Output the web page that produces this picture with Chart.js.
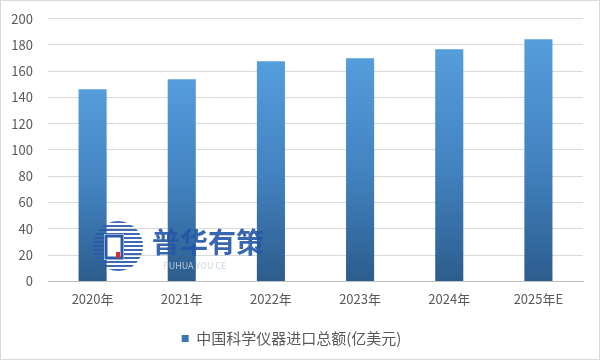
<!DOCTYPE html>
<html>
<head>
<meta charset="utf-8">
<script src="https://cdn.jsdelivr.net/npm/chart.js@4.4.0/dist/chart.umd.min.js"></script>
<style>
html,body{margin:0;padding:0;background:#fff;}
#wrap{width:601px;height:361px;position:relative;}
</style>
</head>
<body>
<div id="wrap"><canvas id="c" width="601" height="361"></canvas></div>
<script>
const categories = ["2020年","2021年","2022年","2023年","2024年","2025年E"];
const seriesName = "中国科学仪器进口总额(亿美元)";
const values = [146.2, 153.8, 167.5, 169.8, 176.6, 184.2];
const yTicks = [0,20,40,60,80,100,120,140,160,180,200];

const FONT = "'Noto Sans CJK SC', 'Noto Sans', sans-serif";

function barGradient(ctx){
  const chart = ctx.chart;
  const ys = chart.scales && chart.scales.y;
  if (!ys || ctx.dataIndex === undefined) return '#3f7fbf';
  const top = ys.getPixelForValue(ctx.raw);
  const base = ys.getPixelForValue(0);
  if (!isFinite(top) || !isFinite(base) || top === base) return '#3f7fbf';
  const g = chart.ctx.createLinearGradient(0, top, 0, base);
  g.addColorStop(0, '#559ddb');
  g.addColorStop(0.5, '#4383c2');
  g.addColorStop(1, '#2c5d8c');
  return g;
}

const borderPlugin = {
  id: 'frame',
  afterDraw(chart){
    const c = chart.ctx;
    c.save();
    c.strokeStyle = '#d9d9d9';
    c.lineWidth = 1;
    c.strokeRect(0.5, 0.5, 599, 359);
    c.restore();
  }
};

const watermark = {
  id: 'wm',
  afterDatasetsDraw(chart){
    const c = chart.ctx;
    c.save();
    c.globalAlpha = 0.9;
    const cx = 118, cy = 246, r = 25;
    c.beginPath(); c.arc(cx, cy, r, 0, Math.PI*2); c.clip();
    c.fillStyle = '#2a5aa8';
    for (let y = cy - r; y < cy + r; y += 4) {
      c.fillRect(cx - r, y, r*2, 2);
    }
    c.restore();
    c.save();
    c.fillStyle = '#ffffff';
    c.fillRect(104, 234, 20, 26);
    c.strokeStyle = '#2a5aa8';
    c.lineWidth = 3;
    c.strokeRect(106, 236, 16, 22);
    c.fillStyle = '#d03030';
    c.fillRect(116, 252, 4, 6);
    c.globalAlpha = 0.9;
    c.fillStyle = '#2456a6';
    c.font = "bold 28px " + FONT;
    c.textBaseline = 'middle';
    c.textAlign = 'left';
    c.fillText('普华有策', 152, 242);
    c.font = "9px " + FONT;
    c.fillStyle = '#c8d0dc';
    c.fillText('PUHUA YOU CE', 163, 266);
    c.restore();
  }
};

new Chart(document.getElementById('c'), {
  type: 'bar',
  data: {
    labels: categories,
    datasets: [{
      label: seriesName,
      data: values,
      backgroundColor: barGradient,
      borderWidth: 0,
      categoryPercentage: 1.0,
      barPercentage: 0.315
    }]
  },
  options: {
    responsive: false,
    animation: false,
    devicePixelRatio: 1,
    layout: { padding: { left: 0, right: 18, top: 0, bottom: 5 } },
    plugins: {
      tooltip: { enabled: false },
      legend: {
        position: 'bottom',
        labels: {
          font: { family: FONT, size: 15 },
          color: '#595959',
          boxWidth: 7,
          boxHeight: 7,
          padding: 14,
          generateLabels(chart){
            return [{
              text: seriesName,
              fillStyle: '#3a75b0',
              strokeStyle: '#3a75b0',
              lineWidth: 0,
              hidden: false,
              datasetIndex: 0,
              fontColor: '#595959'
            }];
          }
        }
      }
    },
    scales: {
      x: {
        grid: { display: false, drawTicks: false },
        border: { display: true, color: '#bfbfbf' },
        ticks: { font: { family: FONT, size: 13 }, color: '#595959', padding: 10 }
      },
      y: {
        min: 0, max: 200,
        afterFit(s){ s.width = 48; },
        afterBuildTicks(s){ s.ticks = yTicks.map(v => ({ value: v })); },
        grid: { color: '#d9d9d9', drawTicks: false },
        border: { display: false },
        ticks: { font: { family: FONT, size: 13, lineHeight: 0.55 }, color: '#595959', padding: 15 }
      }
    }
  },
  plugins: [borderPlugin, watermark]
});
</script>
</body>
</html>
